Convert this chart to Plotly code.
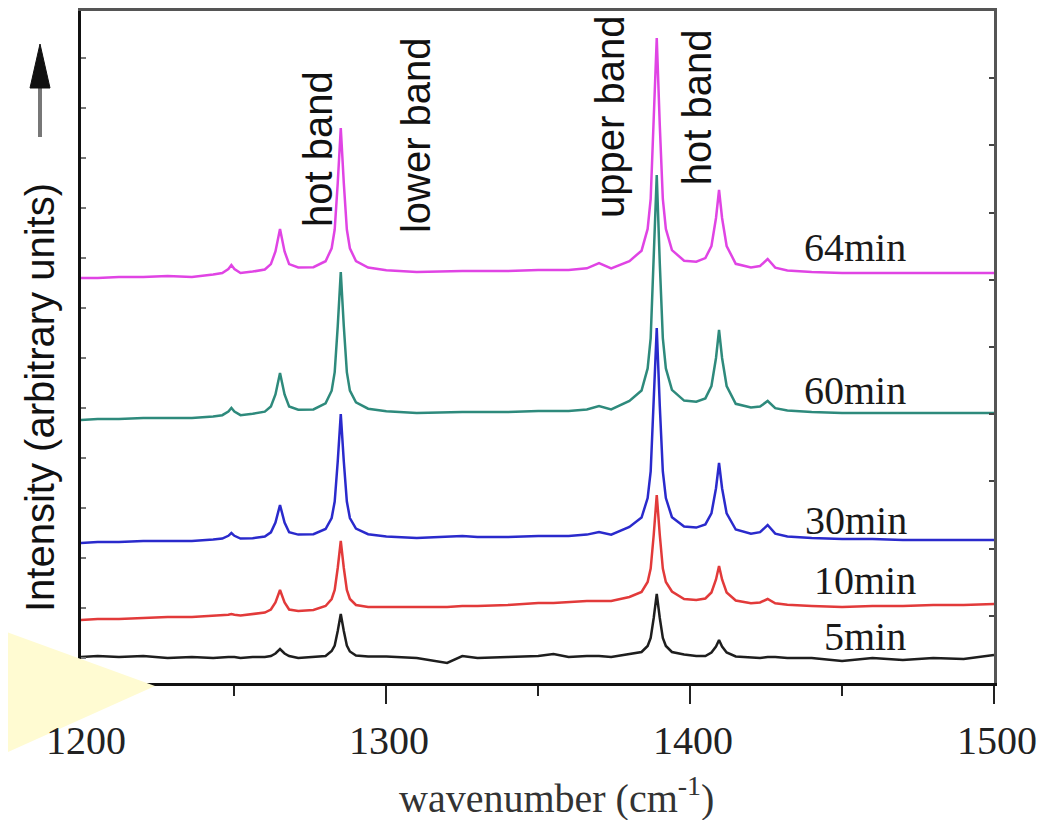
import plotly.graph_objects as go

# ---------------- data ----------------
wavenumber = [1199, 1205, 1212, 1220, 1228, 1236,
              1243, 1246, 1248, 1249, 1250, 1252,
              1256, 1260, 1262, 1263.5, 1265, 1266.5, 1268,
              1271, 1276, 1280,
              1282, 1283, 1284, 1285, 1286, 1287, 1288,
              1290, 1294, 1300,
              1310, 1320, 1325, 1330, 1340, 1350, 1355, 1360,
              1366, 1370, 1374, 1380,
              1384, 1386, 1387, 1388, 1389, 1390, 1391, 1392,
              1394, 1398, 1402, 1405,
              1407, 1408.5, 1409.5, 1410.5, 1412,
              1415, 1420, 1423, 1425.5, 1428, 1432,
              1440, 1450, 1460, 1470, 1480, 1490, 1500]

i_5min = [26, 27, 26, 27, 25, 26,
          25, 26, 26, 26, 26, 25,
          26, 26, 27, 29.5, 34, 29.5, 27,
          25, 26, 27,
          32, 37.5, 52, 69, 52, 37.5, 31.5,
          27.5, 26.5, 26.5,
          25, 20, 27, 25, 26, 27, 29, 26,
          27, 27, 26, 29,
          31, 37, 45, 65, 89, 65, 45, 37,
          31, 28.5, 27, 27,
          30.5, 36.5, 43, 36.5, 30.5,
          26.5, 25.5, 25, 26, 26, 25,
          25, 22, 25, 23, 25, 24, 28]

i_10min = [63, 64, 64, 65, 66, 66,
           67, 67.4, 68.2, 69, 68.2, 67.4,
           69, 70.5, 73.5, 80.5, 93, 80.5, 73.5,
           72, 73, 77,
           84, 93, 115, 142, 115, 93, 84,
           78, 76, 76,
           76, 76, 77, 77, 78, 80, 80, 81,
           82, 82, 82, 86,
           91, 101, 114.5, 148, 188, 148, 114.5, 101,
           91.5, 84, 83, 84.5,
           90.5, 103.5, 117, 103.5, 90.5,
           82.5, 79.7, 80.5, 84, 79.7, 78.3,
           77, 76, 77, 77, 78, 78, 79]

i_30min = [140, 141, 141, 142, 142, 142,
           143.4, 144.4, 147.2, 150, 147.2, 144.4,
           144.8, 146.5, 150.7, 160.5, 178, 160.5, 150.7,
           148.4, 148.8, 154,
           165, 181.5, 221.5, 269, 221.5, 181.5, 165,
           154.4, 148.8, 146.5,
           145, 146, 147, 146, 146, 147, 147, 147,
           148.4, 151, 148.4, 156,
           165.4, 184.9, 211.5, 277, 355, 277, 211.5, 184.9,
           165.8, 156.4, 155.4, 158.6,
           169.6, 194.8, 220, 194.8, 169.6,
           153.5, 149.3, 150.8, 158, 149.4, 146.6,
           145, 144, 144, 143, 143, 143, 143]

i_60min = [263, 264, 264, 265, 265, 265,
           266.5, 267.8, 271.4, 275, 271.4, 267.8,
           269.2, 271.3, 276.5, 288.5, 310, 288.5, 276.5,
           273.3, 273.6, 279.6,
           292.3, 310.9, 356.7, 411, 356.7, 310.9, 292.3,
           280.7, 274.3, 271.7,
           270, 271, 271, 271, 271, 272, 272, 272,
           273.5, 277, 273.5, 282,
           292.5, 314.6, 344.9, 419.5, 508, 419.5, 344.9, 314.6,
           293.1, 282.4, 281.3, 284.6,
           297, 325, 353, 325, 297,
           279.2, 275.5, 276.4, 282, 274.8, 272.5,
           271, 270, 270, 270, 270, 270, 270]

i_64min = [405, 405, 406, 406, 407, 406,
           408.6, 410, 414, 418, 414, 410,
           411.4, 413.5, 418.9, 431.5, 454, 431.5, 418.9,
           415.5, 415.8, 421.8,
           434.7, 453.5, 499.9, 555, 499.9, 453.5, 434.7,
           421.9, 415.4, 412.7,
           411, 412, 412, 412, 412, 413, 413, 413,
           414.7, 420, 414.7, 421.9,
           432.3, 454.1, 484, 557.6, 645, 557.6, 484, 454.1,
           432.9, 422.3, 421.3, 424.9,
           437, 465, 493, 465, 437,
           419.2, 415.6, 417, 424, 415.4, 412.6,
           411, 410, 410, 410, 410, 410, 410]

series_names = ["5min", "10min", "30min", "60min", "64min"]
series_values = [i_5min, i_10min, i_30min, i_60min, i_64min]
series_colors = ["#1e1e1e", "#e23a3a", "#2a2acc", "#2e8a7c", "#e044e4"]

# curve label anchors (wavenumber, intensity)
label_x = [1443.5, 1440.0, 1437.0, 1436.8, 1436.8]
label_y = [47, 103, 163, 293, 436]

band_names = ["hot band", "lower band", "upper band", "hot band"]
band_x = [1277.5, 1309.8, 1373.6, 1402.3]
band_y = [534, 548, 566, 576]

x_ticks = [1200, 1300, 1400, 1500]

# ---------------- layout geometry ----------------
FIG_W, FIG_H = 1055, 820
OFF = 8                      # page body margin
L, R, T, B = 73, 69, 3, 145
PW, PH = FIG_W - L - R, FIG_H - T - B


def px(p):                   # screen x pixel -> paper
    return (p - OFF - L) / PW


def py(p):                   # screen y pixel -> paper
    return (FIG_H - B - (p - OFF)) / PH


fig = go.Figure()
for name, vals, col in zip(series_names, series_values, series_colors):
    fig.add_trace(go.Scatter(x=wavenumber, y=vals, mode="lines", name=name,
                             line=dict(color=col, width=2.5), showlegend=False))

# invisible trace for the secondary (top/right) axes
fig.add_trace(go.Scatter(x=[1300], y=[100], xaxis="x2", yaxis="y2", mode="markers",
                         marker=dict(opacity=0), showlegend=False, hoverinfo="skip"))

serif = "Liberation Serif, Times New Roman, serif"
sans = "Liberation Sans, Arial, sans-serif"

for name, lx, ly in zip(series_names, label_x, label_y):
    fig.add_annotation(x=lx, y=ly, text=name, showarrow=False, xanchor="left", yanchor="middle",
                       font=dict(family=serif, size=40, color="#1a1a1a"))

for name, bx, by in zip(band_names, band_x, band_y):
    fig.add_annotation(x=bx, y=by, text=name, showarrow=False, textangle=-90,
                       xanchor="center", yanchor="middle",
                       font=dict(family=sans, size=40, color="#111"))

# x tick labels
for v in x_ticks:
    fig.add_annotation(x=v, xref="x", yref="paper", y=py(740), text=str(v), showarrow=False,
                       xanchor="center", yanchor="middle", xshift=3,
                       font=dict(family=serif, size=40, color="#222"))

# y axis title
fig.add_annotation(xref="paper", yref="paper", x=px(40), y=py(398), text="Intensity (arbitrary units)",
                   showarrow=False, textangle=-90, xanchor="center", yanchor="middle",
                   font=dict(family=sans, size=40, color="#111"))

# x axis title
fig.add_annotation(xref="paper", yref="paper", x=px(556), y=py(795),
                   text="wavenumber (cm<sup>-1</sup>)", showarrow=False,
                   xanchor="center", yanchor="middle",
                   font=dict(family=serif, size=40, color="#333"))

shapes = [
    # arrow shaft
    dict(type="line", xref="paper", yref="paper", x0=px(40), x1=px(40), y0=py(137), y1=py(85),
         line=dict(color="#777", width=4), layer="above"),
    # arrow head
    dict(type="path", xref="paper", yref="paper",
         path=f"M {px(40)} {py(44)} L {px(30)} {py(88)} L {px(50)} {py(88)} Z",
         fillcolor="#111", line=dict(color="#111", width=1), layer="above"),
    # yellow triangle
    dict(type="path", xref="paper", yref="paper",
         path=f"M {px(-10)} {py(626)} L {px(155)} {py(686)} L {px(-10)} {py(760)} Z",
         fillcolor="#fffbd2", line=dict(width=0), layer="above"),
]

fig.update_layout(
    width=FIG_W, height=FIG_H,
    margin=dict(l=L, r=R, t=T, b=B),
    paper_bgcolor="white", plot_bgcolor="white",
    shapes=shapes,
    xaxis=dict(range=[1199.5, 1500], tickvals=x_ticks, showticklabels=False,
               ticks="outside", ticklen=18, tickwidth=2, tickcolor="#222",
               minor=dict(dtick=50, tick0=1200, ticks="outside", ticklen=10, tickwidth=2, tickcolor="#222"),
               showline=True, linecolor="#111", linewidth=3, showgrid=False, zeroline=False),
    yaxis=dict(range=[0, 672], tick0=25, dtick=50, ticks="inside", ticklen=5, tickwidth=2,
               tickcolor="#777", showticklabels=False, showline=True, linecolor="#111", linewidth=3,
               showgrid=False, zeroline=False),
    xaxis2=dict(range=[1199.5, 1500], overlaying="x", side="top", showline=True, linecolor="#555",
                linewidth=3, showticklabels=False, ticks="", showgrid=False, zeroline=False),
    yaxis2=dict(range=[0, 672], overlaying="y", side="right", tick0=0, dtick=67.2, ticks="inside",
                ticklen=5, tickwidth=2, tickcolor="#444", showticklabels=False, showline=True,
                linecolor="#555", linewidth=3, showgrid=False, zeroline=False),
)

fig.write_html("out.html")
